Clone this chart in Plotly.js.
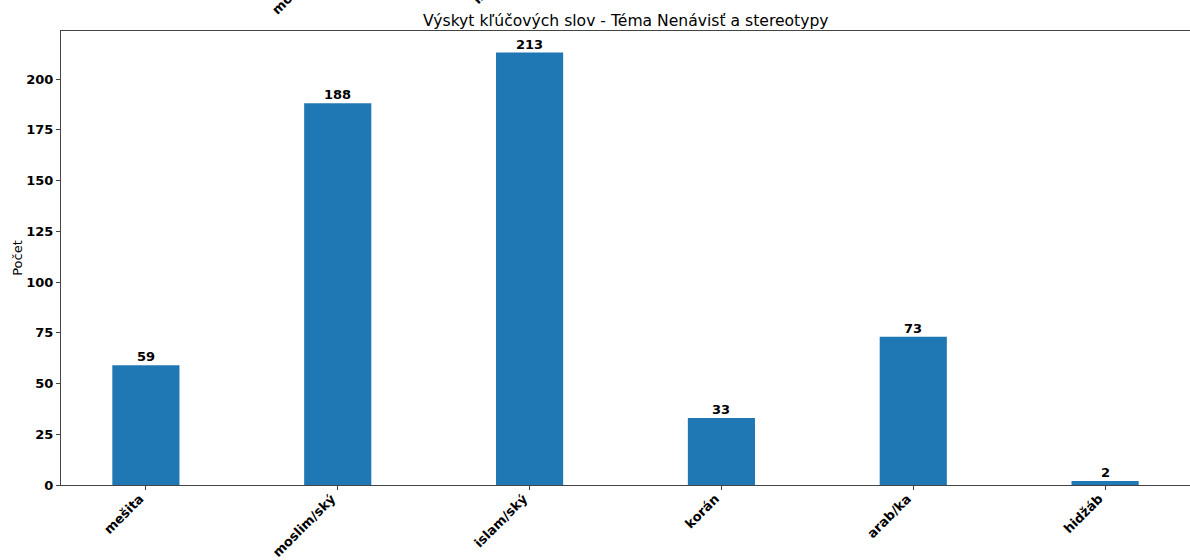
<!DOCTYPE html>
<html>
<head>
<meta charset="utf-8">
<script src="https://cdn.plot.ly/plotly-3.0.1.min.js"></script>
<style>html,body{margin:0;padding:0;background:#fff;}#chart{width:1190px;height:560px;}</style>
</head>
<body>
<div id="chart"></div>
<script>
const categories = ["mešita", "moslim/ský", "islam/ský", "korán", "arab/ka", "hidžáb"];
const counts = [59, 188, 213, 33, 73, 2];
const yTicks = [0, 25, 50, 75, 100, 125, 150, 175, 200];

const boldFont = {family: "DejaVu Sans, sans-serif", size: 13, color: "#000", weight: "bold"};

const trace = {
  type: "bar",
  x: categories.map((c, i) => i),
  y: counts,
  width: 0.35,
  marker: {color: "#1f77b4", line: {width: 0}},
  hoverinfo: "x+y"
};

const valueLabels = counts.map((v, i) => ({
  text: String(v), xref: "x", yref: "y", x: i, y: v,
  xanchor: "center", yanchor: "bottom", yshift: -1,
  showarrow: false, font: boldFont
}));

const layout = {
  width: 1190,
  height: 560,
  margin: {l: 61, r: 0, t: 31, b: 75, pad: 0},
  paper_bgcolor: "#fff",
  plot_bgcolor: "#fff",
  showlegend: false,
  title: {
    text: "Výskyt kľúčových slov - Téma Nenávisť a stereotypy",
    font: {family: "DejaVu Sans, sans-serif", size: 15.6, color: "#000"},
    x: 0.5259, xanchor: "center",
    y: 0.964, yanchor: "middle"
  },
  xaxis: {
    range: [-0.4425, 5.4425],
    tickmode: "array",
    tickvals: categories.map((c, i) => i),
    ticktext: categories,
    tickangle: -45,
    tickfont: boldFont,
    ticks: "outside",
    ticklen: 4,
    tickcolor: "#444",
    ticklabelstandoff: -4,
    ticklabelshift: -6,
    showline: true,
    linecolor: "#444",
    linewidth: 1,
    mirror: true,
    showgrid: false,
    zeroline: false,
    fixedrange: true
  },
  yaxis: {
    range: [0, 223.65],
    tickmode: "array",
    tickvals: yTicks,
    ticktext: yTicks.map(String),
    tickfont: boldFont,
    ticks: "outside",
    ticklen: 4,
    tickcolor: "#444",
    showline: true,
    linecolor: "#444",
    linewidth: 1,
    mirror: true,
    showgrid: false,
    zeroline: false,
    title: {text: "Počet", font: {family: "DejaVu Sans, sans-serif", size: 13, color: "#000"}, standoff: 0},
    fixedrange: true
  },
  annotations: valueLabels.concat([
    {text: categories[1], xref: "paper", yref: "paper", x: 0.2150, y: 1.107, xanchor: "center", yanchor: "middle",
     textangle: -45, showarrow: false, font: boldFont},
    {text: categories[2], xref: "paper", yref: "paper", x: 0.3880, y: 1.118, xanchor: "center", yanchor: "middle",
     textangle: -45, showarrow: false, font: boldFont}
  ])
};

Plotly.newPlot("chart", [trace], layout, {displayModeBar: false, staticPlot: true});
</script>
</body>
</html>
